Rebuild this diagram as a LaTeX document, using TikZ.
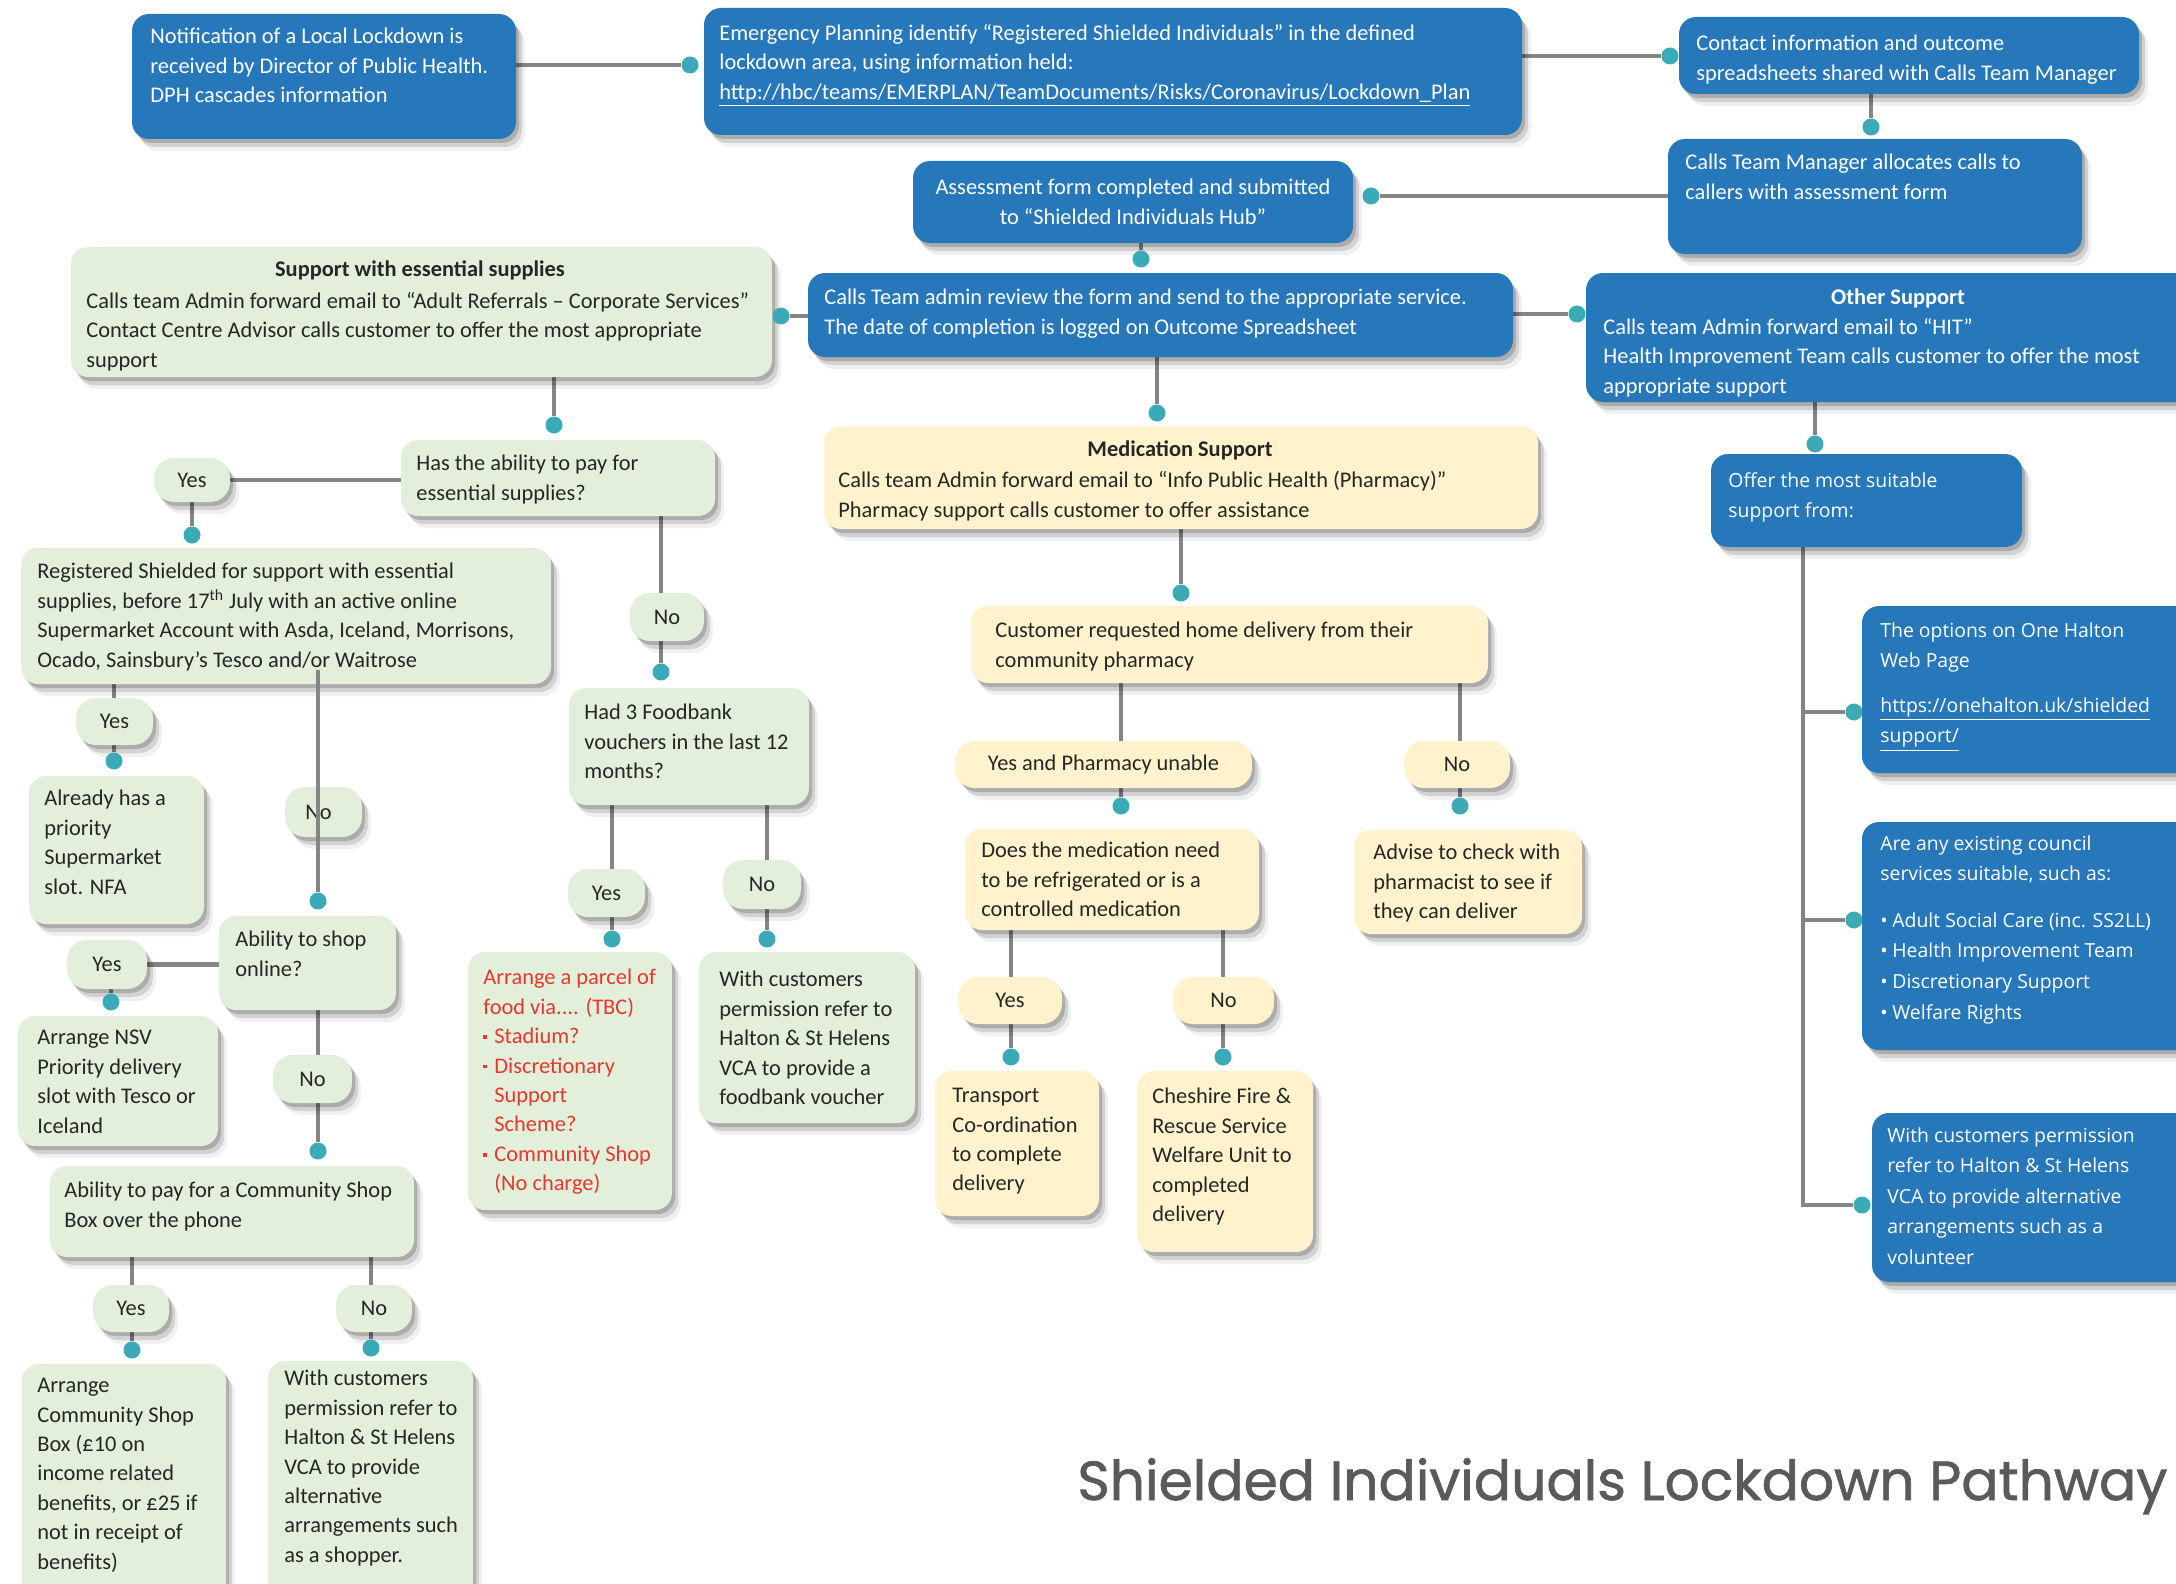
\documentclass[tikz,border=0pt]{standalone}
\usepackage{fontspec}
\usepackage{graphicx}
\setmainfont{Carlito}
\newfontfamily\sidefamily{Open Sans}
\newfontfamily\headfamily{Poppins}[FakeBold=1.2]
\usetikzlibrary{shapes.geometric,shadows,fit,calc}
\pgfdeclarelayer{back}
\pgfdeclarelayer{bg}
\pgfsetlayers{back,bg,main}

\definecolor{boxblue}{HTML}{2777BB}
\definecolor{boxgreen}{HTML}{E2EFDA}
\definecolor{boxyellow}{HTML}{FFF2CC}
\definecolor{dotteal}{HTML}{3AAAB6}
\definecolor{linegray}{HTML}{858585}
\definecolor{ink}{HTML}{262626}
\definecolor{alertred}{HTML}{E8382C}
\definecolor{titlegray}{HTML}{5A5A5A}

\newcommand\flowfont{\fontsize{11.2}{14.7}\selectfont}
\newcommand\sidefont{\sidefamily\fontsize{9.7}{15.3}\selectfont}
\newcommand\redsq{\makebox[5.5pt][l]{\raisebox{2.4pt}{\rule{1.8pt}{1.8pt}}}}
\newcommand\wbul{\makebox[6pt][l]{•}}

\tikzset{
  softshadow/.style={
    drop shadow={shadow xshift=1.5pt,shadow yshift=-2pt,opacity=.18,fill=black},
    drop shadow={shadow xshift=3pt,shadow yshift=-4pt,opacity=.12,fill=black},
    drop shadow={shadow xshift=4.5pt,shadow yshift=-6pt,opacity=.06,fill=black}},
  panel/.style={inner sep=0pt, rounded corners=8.5pt, softshadow},
  bluepanel/.style={panel, fill=boxblue},
  greenpanel/.style={panel, fill=boxgreen},
  yellowpanel/.style={panel, fill=boxyellow},
  bubble/.style={panel, rounded corners=10pt, font=\flowfont, text=ink},
  gbubble/.style={bubble, fill=boxgreen},
  ybubble/.style={bubble, fill=boxyellow},
  dot/.style={ellipse, fill=dotteal, inner sep=0pt, minimum width=8.5pt, minimum height=8.5pt},
  conn/.style={draw=linegray, line width=2.3pt},
  bodytext/.style={anchor=north west, inner sep=0pt, align=left, font=\flowfont, yshift=-2pt},
  onblue/.style={bodytext, text=white},
  onpale/.style={bodytext, text=ink},
  heading/.style={anchor=base, inner sep=0pt, font=\flowfont\bfseries},
  sidetext/.style={anchor=north west, inner sep=0pt, align=left, text=white, font=\sidefont, yshift=-1pt},
}

\begin{document}
\begin{tikzpicture}[x=0.5pt,y=-0.5pt]
\useasboundingbox (0,0) rectangle (2176,1584);
\begin{pgfonlayer}{back}
  \fill[white] (0,0) rectangle (2176,1584);
\end{pgfonlayer}
\clip (0,0) rectangle (2176,1584);

% ---------- blue process boxes ----------
\node[bluepanel, fit={(132,14) (516,139)}] (n1) {};
\node[onblue] (n1t) at (150,24) {Notification of a Local Lockdown is\\received by Director of Public Health.\\DPH cascades information};

\node[bluepanel, fit={(704,8) (1522,135)}] (n2) {};
\node[onblue] (n2t) at (719,20) {Emergency Planning identify “Registered Shielded Individuals” in the defined\\lockdown area, using information held:\\\underline{http://hbc/teams/EMERPLAN/TeamDocuments/Risks/Coronavirus/Lockdown\_Plan}};

\node[bluepanel, fit={(1679,17) (2139,94)}] (n3) {};
\node[onblue] (n3t) at (1696,31) {Contact information and outcome\\spreadsheets shared with Calls Team Manager};

\node[bluepanel, fit={(1668,139) (2082,254)}] (n4) {};
\node[onblue] (n4t) at (1685,150) {Calls Team Manager allocates calls to\\callers with assessment form};

\node[bluepanel, fit={(913,161) (1353,243)}] (n5) {};
\node[onblue, anchor=north, align=center] (n5t) at (1133,175) {Assessment form completed and submitted\\to “Shielded Individuals Hub”};

\node[bluepanel, fit={(808,273) (1513,357)}] (n6) {};
\node[onblue] (n6t) at (824,285) {Calls Team admin review the form and send to the appropriate service.\\The date of completion is logged on Outcome Spreadsheet};

\node[bluepanel, fit={(1586,273) (2200,402)}] (n7) {};
\node[heading, text=white] (n7h) at (1898,304) {Other Support};
\node[onblue] (n7t) at (1603,314) {Calls team Admin forward email to “HIT”\\Health Improvement Team calls customer to offer the most\\appropriate support};

% ---------- essential supplies branch ----------
\node[greenpanel, fit={(71,247) (772,377)}] (n8) {};
\node[heading, text=ink] (n8h) at (420,277) {Support with essential supplies};
\node[onpale] (n8t) at (86,288) {Calls team Admin forward email to “Adult Referrals – Corporate Services”\\Contact Centre Advisor calls customer to offer the most appropriate\\support};

\node[greenpanel, fit={(401,440) (715,516)}] (n10) {};
\node[onpale] (n10t) at (416,451) {Has the ability to pay for\\essential supplies?};

\node[greenpanel, fit={(21,548) (551,684)}] (n11) {};
\node[onpale] (n11t) at (37,559) {Registered Shielded for support with essential\\supplies, before 17\textsuperscript{th} July with an active online\\Supermarket Account with Asda, Iceland, Morrisons,\\Ocado, Sainsbury’s Tesco and/or Waitrose};

\node[greenpanel, fit={(569,688) (809,805)}] (n12) {};
\node[onpale] (n12t) at (584,700) {Had 3 Foodbank\\vouchers in the last 12\\months?};

\node[greenpanel, fit={(29,776) (204,924)}] (n13) {};
\node[onpale] (n13t) at (44,786) {Already has a\\priority\\Supermarket\\slot. NFA};

\node[greenpanel, fit={(219,916) (396,1010)}] (n14) {};
\node[onpale] (n14t) at (235,927) {Ability to shop\\online?};

\node[greenpanel, fit={(18,1016) (218,1146)}] (n15) {};
\node[onpale] (n15t) at (37,1026) {Arrange NSV\\Priority delivery\\slot with Tesco or\\Iceland};

\node[greenpanel, fit={(50,1166) (414,1257)}] (n16) {};
\node[onpale] (n16t) at (64,1178) {Ability to pay for a Community Shop\\Box over the phone};

\node[greenpanel, fit={(22,1364) (226,1600)}] (n17) {};
\node[onpale] (n17t) at (37,1374) {Arrange\\Community Shop\\Box (£10 on\\income related\\benefits, or £25 if\\not in receipt of\\benefits)};

\node[greenpanel, fit={(268,1361) (473,1600)}] (n18) {};
\node[onpale] (n18t) at (284,1366) {With customers\\permission refer to\\Halton \& St Helens\\VCA to provide\\alternative\\arrangements such\\as a shopper.};

\node[greenpanel, fit={(468,952) (672,1210)}] (n19) {};
\node[bodytext, text=alertred] (n19t) at (483,965) {Arrange a parcel of\\food via.... (TBC)\\\redsq Stadium?\\\redsq Discretionary\\\hspace*{5.5pt}Support\\\hspace*{5.5pt}Scheme?\\\redsq Community Shop\\\hspace*{5.5pt}(No charge)};

\node[greenpanel, fit={(699,952) (915,1123)}] (n20) {};
\node[onpale] (n20t) at (719,967) {With customers\\permission refer to\\Halton \& St Helens\\VCA to provide a\\foodbank voucher};

% ---------- medication branch ----------
\node[yellowpanel, fit={(824,426) (1538,529)}] (n9) {};
\node[heading, text=ink] (n9h) at (1180,456) {Medication Support};
\node[onpale] (n9t) at (838,467) {Calls team Admin forward email to “Info Public Health (Pharmacy)”\\Pharmacy support calls customer to offer assistance};

\node[yellowpanel, fit={(971,606) (1488,683)}] (n21) {};
\node[onpale] (n21t) at (995,618) {Customer requested home delivery from their\\community pharmacy};

\node[yellowpanel, fit={(965,829) (1259,930)}] (n22) {};
\node[onpale] (n22t) at (981,838) {Does the medication need\\to be refrigerated or is a\\controlled medication};

\node[yellowpanel, fit={(1354,830) (1582,934)}] (n23) {};
\node[onpale] (n23t) at (1373,840) {Advise to check with\\pharmacist to see if\\they can deliver};

\node[yellowpanel, fit={(935,1071) (1099,1216)}] (n24) {};
\node[onpale] (n24t) at (952,1084) {Transport\\Co-ordination\\to complete\\delivery};

\node[yellowpanel, fit={(1137,1071) (1313,1252)}] (n25) {};
\node[onpale] (n25t) at (1152,1084) {Cheshire Fire \&\\Rescue Service\\Welfare Unit to\\completed\\delivery};

% ---------- other support branch ----------
\node[bluepanel, fit={(1711,454) (2022,547)}] (n26) {};
\node[sidetext] (n26t) at (1728,470) {Offer the most suitable\\support from:};

\node[bluepanel, fit={(1862,606) (2200,773)}] (n27) {};
\node[sidetext] (n27t) at (1880,620) {The options on One Halton\\Web Page\\[7pt]\underline{https://onehalton.uk/shielded}\\\underline{support/}};

\node[bluepanel, fit={(1862,822) (2200,1050)}] (n28) {};
\node[sidetext] (n28t) at (1880,833) {Are any existing council\\services suitable, such as:\\[8pt]\wbul Adult Social Care (inc. SS2LL)\\\wbul Health Improvement Team\\\wbul Discretionary Support\\\wbul Welfare Rights};

\node[bluepanel, fit={(1872,1113) (2200,1282)}] (n29) {};
\node[sidetext] (n29t) at (1887,1125) {With customers permission\\refer to Halton \& St Helens\\VCA to provide alternative\\arrangements such as a\\volunteer};

% ---------- decision labels ----------
\node[gbubble, minimum width=38pt, minimum height=22pt] (yes1) at (192,480) {Yes};
\node[gbubble, minimum width=37pt, minimum height=24pt] (no1) at (667,617) {No};
\node[gbubble, minimum width=38.5pt, minimum height=23.5pt] (yes2) at (114.5,721.5) {Yes};
\node[gbubble, minimum width=38.5pt, minimum height=25pt] (no2) at (323.5,812) {\hspace*{-5pt}No};
\node[gbubble, minimum width=40pt, minimum height=24.5pt] (yes3) at (107,964.5) {Yes};
\node[gbubble, minimum width=39.5pt, minimum height=24pt] (no3) at (312.5,1079) {No};
\node[gbubble, minimum width=38pt, minimum height=23.5pt] (yes4) at (131,1308.5) {Yes};
\node[gbubble, minimum width=38pt, minimum height=23.5pt] (no4) at (374,1308.5) {No};
\node[gbubble, minimum width=38.5pt, minimum height=24pt] (yes5) at (606.5,893) {Yes};
\node[gbubble, minimum width=39pt, minimum height=24.5pt] (no5) at (762,884.5) {No};
\node[ybubble, minimum width=148.5pt, minimum height=23.5pt] (yes6) at (1103.5,764.5) {Yes and Pharmacy unable};
\node[ybubble, minimum width=53pt, minimum height=23.5pt] (no6) at (1457,764.5) {No};
\node[ybubble, minimum width=52pt, minimum height=23.5pt] (yes7) at (1010,1000.5) {Yes};
\node[ybubble, minimum width=50.5pt, minimum height=23.5pt] (no7) at (1223.5,1000.5) {No};

% ---------- connector end dots ----------
\node[dot] (dA) at (690,65) {};
\node[dot] (dB) at (1670,56) {};
\node[dot] (dC) at (1871,127) {};
\node[dot] (dD) at (1371,196) {};
\node[dot] (dE) at (1141,259) {};
\node[dot] (dF) at (781,316) {};
\node[dot] (dG) at (1577,314) {};
\node[dot] (dH) at (1157,413) {};
\node[dot] (dI) at (1815,444) {};
\node[dot] (dJ) at (1854,712) {};
\node[dot] (dK) at (1854,920) {};
\node[dot] (dL) at (1862,1205) {};
\node[dot] (dM) at (554,425) {};
\node[dot] (dN) at (192,535) {};
\node[dot] (dO) at (661,672) {};
\node[dot] (dP) at (114,761) {};
\node[dot] (dQ) at (318,901) {};
\node[dot] (dR) at (111,1002) {};
\node[dot] (dS) at (318,1151) {};
\node[dot] (dT) at (132,1350) {};
\node[dot] (dU) at (371,1348) {};
\node[dot] (dV) at (612,939) {};
\node[dot] (dW) at (767,939) {};
\node[dot] (dX) at (1181,593) {};
\node[dot] (dY) at (1121,806) {};
\node[dot] (dZ) at (1460,806) {};
\node[dot] (dAA) at (1011,1057) {};
\node[dot] (dBB) at (1223,1057) {};

\coordinate (trunk) at (1803,0);
\coordinate (kink) at (318,670);

% ---------- connectors ----------
\begin{pgfonlayer}{bg}
  \draw[conn] (n1.east |- dA) -- (dA);
  \draw[conn] (n2.east |- dB) -- (dB);
  \draw[conn] (n3.south -| dC) -- (dC);
  \draw[conn] (n4.west |- dD) -- (dD);
  \draw[conn] (n5.south -| dE) -- (dE);
  \draw[conn] (n6.west |- dF) -- (dF);
  \draw[conn] (n6.east |- dG) -- (dG);
  \draw[conn] (n6.south -| dH) -- (dH);
  \draw[conn] (n7.south -| dI) -- (dI);
  \draw[conn] (n26.south -| trunk) -- (trunk |- dL) -- (dL);
  \draw[conn] (trunk |- dJ) -- (dJ);
  \draw[conn] (trunk |- dK) -- (dK);
  \draw[conn] (n8.south -| dM) -- (dM);
  \draw[conn] (n10.west |- yes1) -- (yes1.center);
  \draw[conn] (yes1.center) -- (dN);
  \draw[conn] (n10.south -| dO) -- (dO);
  \draw[conn] (n11.south -| dP) -- (dP);
  \draw[conn] (n14.west |- yes3) -- (yes3.center);
  \draw[conn] (yes3.center -| dR) -- (dR);
  \draw[conn] (n14.south -| dS) -- (dS);
  \draw[conn] (n16.south -| dT) -- (dT);
  \draw[conn] (n16.south -| dU) -- (dU);
  \draw[conn] (n12.south -| dV) -- (dV);
  \draw[conn] (n12.south -| dW) -- (dW);
  \draw[conn] (n9.south -| dX) -- (dX);
  \draw[conn] (n21.south -| dY) -- (dY);
  \draw[conn] (n21.south -| dZ) -- (dZ);
  \draw[conn] (n22.south -| dAA) -- (dAA);
  \draw[conn] (n22.south -| dBB) -- (dBB);
\end{pgfonlayer}
% this one runs over its box and label
\draw[conn] (kink) -- (dQ.north);

% ---------- title ----------
\node[anchor=base west, inner sep=0pt, text=titlegray] (title) at (1077,1500)
  {\resizebox{545pt}{!}{\headfamily Shielded Individuals Lockdown Pathway}};
\end{tikzpicture}
\end{document}
